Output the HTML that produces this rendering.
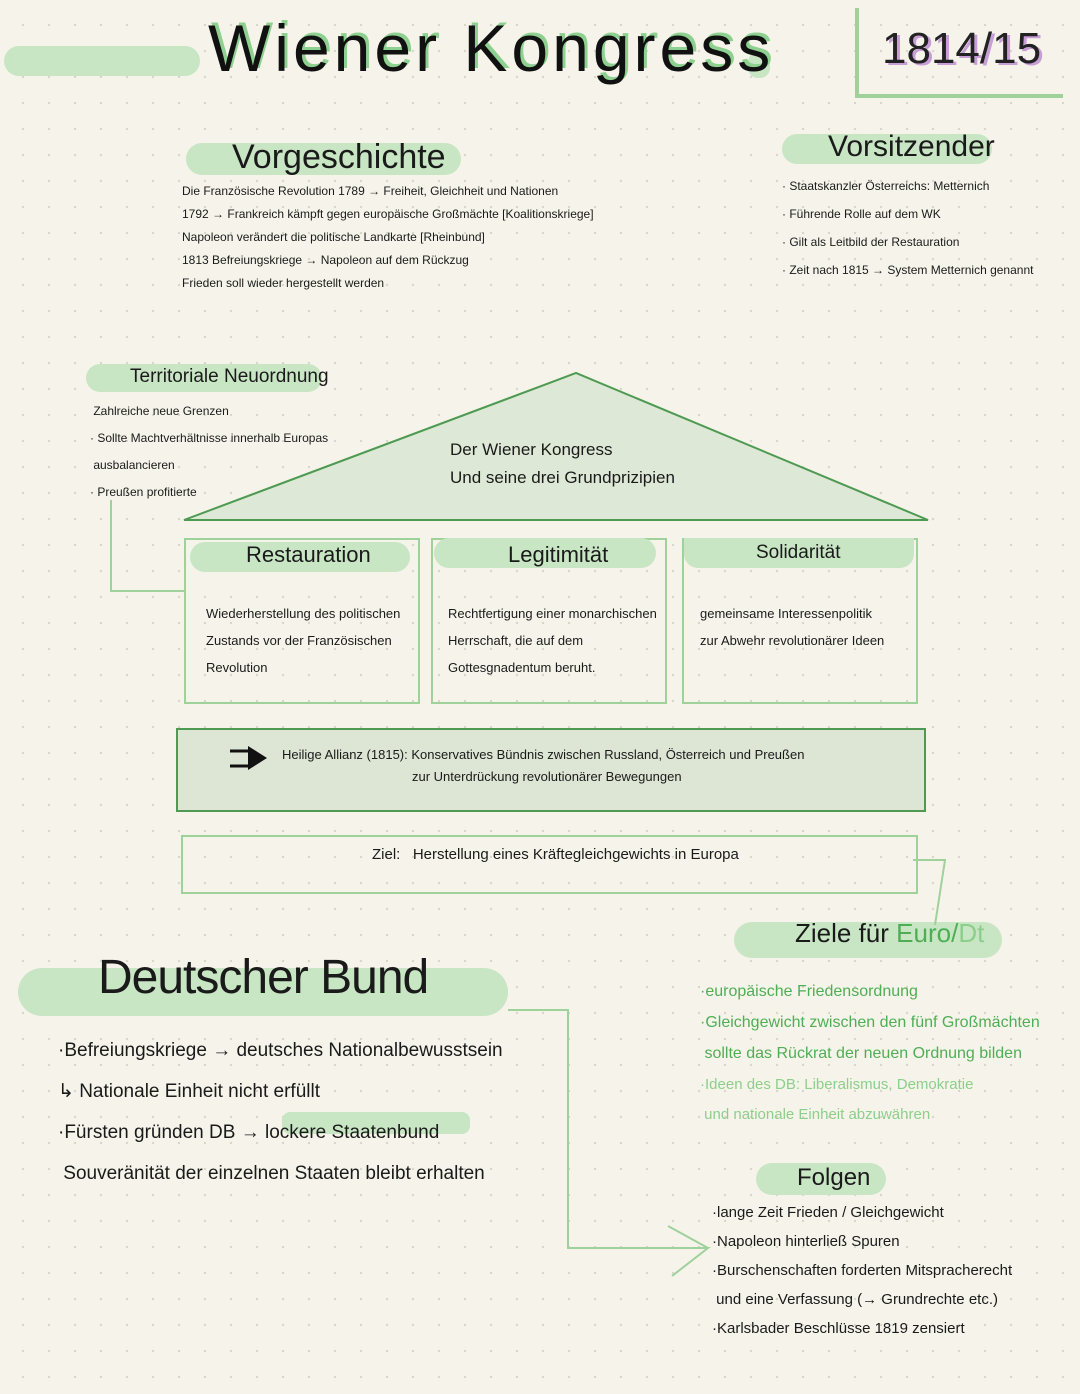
<!DOCTYPE html>
<html><head><meta charset="utf-8"><style>
body{margin:0;width:1080px;height:1394px;position:relative;overflow:hidden;background:#f6f4ea;
background-image:radial-gradient(#d9d7cc 1.2px,transparent 1.3px);background-size:26px 26px;background-position:10px 12px;
font-family:"Liberation Sans",sans-serif;color:#1a1a1a}
.a{position:absolute;white-space:nowrap}
.hl{position:absolute;background:#c8e6c4;border-radius:18px}
.box{position:absolute;border:2px solid #9fd19b}
.t{font-size:13px;line-height:23px}
.g{color:#4fae55}
.lg{color:#8ccf8a}
</style></head><body>
<div class="hl" style="left:4px;top:46px;width:196px;height:30px"></div>
<div class="hl" style="left:748px;top:52px;width:22px;height:26px;border-radius:10px"></div>
<div class="a" style="left:208px;top:10px;font-size:66px;letter-spacing:4px;color:#111;text-shadow:3px -3px 0 #8dd08f">Wiener Kongress</div>
<div class="a" style="left:855px;top:8px;width:4px;height:90px;background:#9fd19b"></div>
<div class="a" style="left:855px;top:94px;width:208px;height:4px;background:#9fd19b"></div>
<div class="a" style="left:882px;top:24px;font-size:44px;color:#222;text-shadow:3px 2px 0 #c89ed6">1814/15</div>

<div class="hl" style="left:186px;top:143px;width:275px;height:32px"></div>
<div class="a" style="left:232px;top:138px;font-size:34px">Vorgeschichte</div>
<div class="a t" style="left:182px;top:180px;font-size:12px">Die Französische Revolution 1789 → Freiheit, Gleichheit und Nationen<br>1792 → Frankreich kämpft gegen europäische Großmächte [Koalitionskriege]<br>Napoleon verändert die politische Landkarte [Rheinbund]<br>1813 Befreiungskriege → Napoleon auf dem Rückzug<br>Frieden soll wieder hergestellt werden</div>

<div class="hl" style="left:782px;top:134px;width:210px;height:30px"></div>
<div class="a" style="left:828px;top:130px;font-size:30px">Vorsitzender</div>
<div class="a t" style="left:782px;top:172px;line-height:28px;font-size:12px">· Staatskanzler Österreichs: Metternich<br>· Führende Rolle auf dem WK<br>· Gilt als Leitbild der Restauration<br>· Zeit nach 1815 → System Metternich genannt</div>

<div class="hl" style="left:86px;top:364px;width:236px;height:28px"></div>
<div class="a" style="left:130px;top:366px;font-size:19px">Territoriale Neuordnung</div>
<div class="a t" style="left:90px;top:398px;line-height:27px;font-size:12px">&nbsp;Zahlreiche neue Grenzen<br>· Sollte Machtverhältnisse innerhalb Europas<br>&nbsp;ausbalancieren<br>· Preußen profitierte</div>
<div class="a" style="left:110px;top:500px;width:2px;height:92px;background:#9fd19b"></div>
<div class="a" style="left:110px;top:590px;width:76px;height:2px;background:#9fd19b"></div>

<svg class="a" style="left:0;top:0" width="1080" height="1394">
<polygon points="184,520 576,373 928,520" fill="#dde9d6" stroke="#4f9a52" stroke-width="2"/>
</svg>
<div class="a" style="left:450px;top:436px;font-size:17px;line-height:28px">Der Wiener Kongress<br>Und seine drei Grundprizipien</div>

<div class="box" style="left:184px;top:538px;width:232px;height:162px"></div>
<div class="hl" style="left:190px;top:542px;width:220px;height:30px"></div>
<div class="a" style="left:246px;top:542px;font-size:22px">Restauration</div>
<div class="a t" style="left:206px;top:600px;line-height:27px">Wiederherstellung des politischen<br>Zustands vor der Französischen<br>Revolution</div>

<div class="box" style="left:431px;top:538px;width:232px;height:162px"></div>
<div class="hl" style="left:434px;top:538px;width:222px;height:30px"></div>
<div class="a" style="left:508px;top:542px;font-size:22px">Legitimität</div>
<div class="a t" style="left:448px;top:600px;line-height:27px">Rechtfertigung einer monarchischen<br>Herrschaft, die auf dem<br>Gottesgnadentum beruht.</div>

<div class="box" style="left:682px;top:538px;width:232px;height:162px"></div>
<div class="hl" style="left:684px;top:538px;width:230px;height:30px;border-radius:0 0 14px 14px"></div>
<div class="a" style="left:756px;top:542px;font-size:19px">Solidarität</div>
<div class="a t" style="left:700px;top:600px;line-height:27px">gemeinsame Interessenpolitik<br>zur Abwehr revolutionärer Ideen</div>

<div class="a" style="left:176px;top:728px;width:746px;height:80px;background:#dde5d4;border:2px solid #4f9a52"></div>
<div class="a t" style="left:282px;top:744px;line-height:22px">Heilige Allianz (1815): Konservatives Bündnis zwischen Russland, Österreich und Preußen<br><span style="padding-left:130px">zur Unterdrückung revolutionärer Bewegungen</span></div>

<div class="box" style="left:181px;top:835px;width:733px;height:55px"></div>
<div class="a" style="left:372px;top:846px;font-size:15px">Ziel:&nbsp;&nbsp; Herstellung eines Kräftegleichgewichts in Europa</div>

<div class="hl" style="left:734px;top:922px;width:268px;height:36px"></div>
<div class="a" style="left:795px;top:918px;font-size:26px">Ziele für <span class="g">Euro/</span><span class="lg">Dt</span></div>
<div class="a g" style="left:700px;top:976px;font-size:16px;line-height:31px">·europäische Friedensordnung<br>·Gleichgewicht zwischen den fünf Großmächten<br>&nbsp;sollte das Rückrat der neuen Ordnung bilden</div>
<div class="a lg" style="left:700px;top:1070px;font-size:15px;line-height:30px">·Ideen des DB: Liberalismus, Demokratie<br>&nbsp;und nationale Einheit abzuwähren</div>

<div class="hl" style="left:18px;top:968px;width:490px;height:48px;border-radius:24px"></div>
<div class="a" style="left:98px;top:950px;font-size:48px;letter-spacing:-1px">Deutscher Bund</div>
<div class="hl" style="left:282px;top:1112px;width:188px;height:22px;border-radius:8px"></div>
<div class="a" style="left:58px;top:1030px;font-size:19px;line-height:41px">·Befreiungskriege → deutsches Nationalbewusstsein<br>↳ Nationale Einheit nicht erfüllt<br>·Fürsten gründen DB → lockere Staatenbund<br>&nbsp;Souveränität der einzelnen Staaten bleibt erhalten</div>

<div class="hl" style="left:756px;top:1163px;width:130px;height:32px"></div>
<div class="a" style="left:797px;top:1164px;font-size:24px">Folgen</div>
<div class="a" style="left:712px;top:1198px;font-size:15px;line-height:29px">·lange Zeit Frieden / Gleichgewicht<br>·Napoleon hinterließ Spuren<br>·Burschenschaften forderten Mitspracherecht<br>&nbsp;und eine Verfassung (→ Grundrechte etc.)<br>·Karlsbader Beschlüsse 1819 zensiert</div>

<svg class="a" style="left:0;top:0" width="1080" height="1394">
<polyline points="913,860 945,860 935,925" fill="none" stroke="#9fd19b" stroke-width="2"/>
<polyline points="508,1010 568,1010 568,1248 708,1248 672,1276" fill="none" stroke="#9fd19b" stroke-width="2"/>
<line x1="668" y1="1226" x2="708" y2="1248" stroke="#9fd19b" stroke-width="2"/>
<path d="M230 751 h22 M230 766 h22" stroke="#111" stroke-width="3"/>
<path d="M248 746 L267 758 L248 770 z" fill="#111"/>
</svg>
</body></html>
